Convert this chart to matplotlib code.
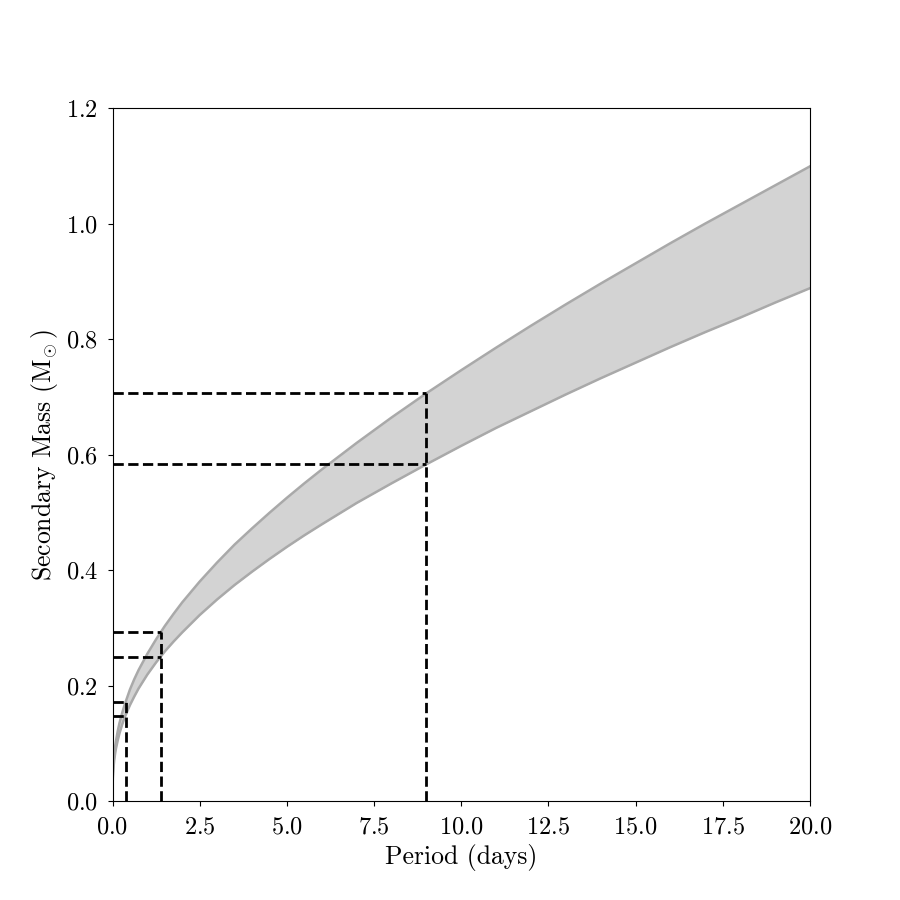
import matplotlib
matplotlib.use("Agg")
import matplotlib.pyplot as plt

plt.rcParams['font.family'] = 'serif'
plt.rcParams['font.serif'] = ['cmr10']
plt.rcParams['mathtext.fontset'] = 'cm'
plt.rcParams['axes.formatter.use_mathtext'] = True

# Periodo (dias) e limites da massa secundaria
periodo = [0, 0.001, 0.005, 0.01, 0.02, 0.035, 0.05, 0.075, 0.1, 0.15, 0.2, 0.275, 0.35,
           0.5, 0.625, 0.75, 1.0, 1.25, 1.5, 1.75, 2, 2.5, 3, 3.5, 4, 4.5, 5, 5.5, 6, 7, 8,
           9, 10, 11, 12, 13, 14, 15, 16, 17, 18, 19, 20]
massa_sup = [0, 0.021, 0.036, 0.046, 0.058, 0.071, 0.081, 0.094, 0.104, 0.121, 0.135, 0.152,
             0.167, 0.193, 0.211, 0.227, 0.255, 0.280, 0.303, 0.324, 0.344, 0.380, 0.413,
             0.444, 0.472, 0.499, 0.525, 0.550, 0.574, 0.620, 0.664, 0.706, 0.746, 0.785,
             0.823, 0.860, 0.896, 0.931, 0.966, 1.000, 1.033, 1.066, 1.099]
massa_inf = [0, 0.018, 0.031, 0.040, 0.051, 0.062, 0.071, 0.082, 0.091, 0.105, 0.117, 0.132,
             0.145, 0.166, 0.181, 0.195, 0.219, 0.240, 0.259, 0.276, 0.292, 0.322, 0.349,
             0.374, 0.397, 0.419, 0.440, 0.460, 0.479, 0.516, 0.550, 0.583, 0.615, 0.646,
             0.675, 0.704, 0.732, 0.759, 0.786, 0.812, 0.837, 0.863, 0.888]

# Periodos marcados e massas correspondentes (linhas tracejadas)
periodos_obs = [0.373, 1.377, 9.0]
m_obs_sup = [0.171, 0.293, 0.707]
m_obs_inf = [0.148, 0.250, 0.583]

fig, ax = plt.subplots(figsize=(9, 9), dpi=100)

ax.fill_between(periodo, massa_inf, massa_sup, color='lightgrey', linewidth=0)
ax.plot(periodo, massa_sup, color='darkgrey', linewidth=1.8)
ax.plot(periodo, massa_inf, color='darkgrey', linewidth=1.8)

for p, ms, mi in zip(periodos_obs, m_obs_sup, m_obs_inf):
    ax.plot([p, p], [0, ms], color='black', linestyle='--', linewidth=2)
    ax.plot([0, p], [ms, ms], color='black', linestyle='--', linewidth=2)
    ax.plot([0, p], [mi, mi], color='black', linestyle='--', linewidth=2)

ax.set_xlim(0, 20)
ax.set_ylim(0, 1.2)
ax.set_xticks([0, 2.5, 5, 7.5, 10, 12.5, 15, 17.5, 20])
ax.set_yticks([0, 0.2, 0.4, 0.6, 0.8, 1.0, 1.2])
ax.tick_params(labelsize=17.5)
ax.tick_params(axis='x', pad=7.5)
ax.tick_params(axis='y', pad=7)
ax.set_xlabel('Period (days)', fontsize=18.5)
ax.set_ylabel(r'Secondary Mass ($\mathrm{M}_{\!\odot}$)', fontsize=18.5)

plt.savefig('out.png', dpi=100)
plt.close(fig)
